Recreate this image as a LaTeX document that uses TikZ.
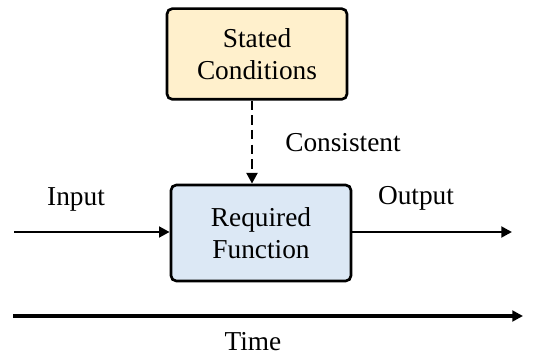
\documentclass[tikz,border=0pt]{standalone}
\usepackage{fontspec}
\setmainfont{Liberation Serif}
\definecolor{cond_fill}{RGB}{255, 240, 204}
\definecolor{func_fill}{RGB}{220, 232, 245}
\usetikzlibrary{arrows.meta, positioning}

\begin{document}
\begin{tikzpicture}[x=0.75pt, y=-0.75pt, font=\rmfamily\fontsize{20.5}{24}\selectfont,
      blk/.style={draw, line width=2pt, rounded corners=4pt, align=center,
                  font=\rmfamily\fontsize{20.5}{24.5}\selectfont,
                  minimum width=135pt, minimum height=68pt},
      arr/.style={-{Triangle[length=8pt, width=8pt]}, line width=2pt}]
      \useasboundingbox (0,0) rectangle (536,356);
      \node[blk, fill=cond_fill] (cond) at (257, 54) {Stated\\Conditions};
      \node[blk, fill=func_fill, minimum height=72pt] (func) at (261, 233) {Required\\Function};
      \coordinate (inL)   at (14, 232);
      \coordinate (outR)  at (512, 232);
      \coordinate (timeL) at (13, 316);
      \coordinate (timeR) at (523, 316);
      \draw[arr, dash pattern=on 7pt off 4pt] (cond.south -| 252,0) -- (func.north -| 252,0);
      \draw[arr] (inL) -- (func.west |- inL);
      \draw[arr] (func.east |- outR) -- (outR);
      \draw[arr, line width=2.8pt] (timeL) -- (timeR);
      \node (cons) at (343, 143) {Consistent};
      \node (inp)  at (76, 199)  {Input};
      \node (outp) at (416, 198) {Output};
      \node (time) at (253, 342) {Time};
    \end{tikzpicture}
\end{document}
